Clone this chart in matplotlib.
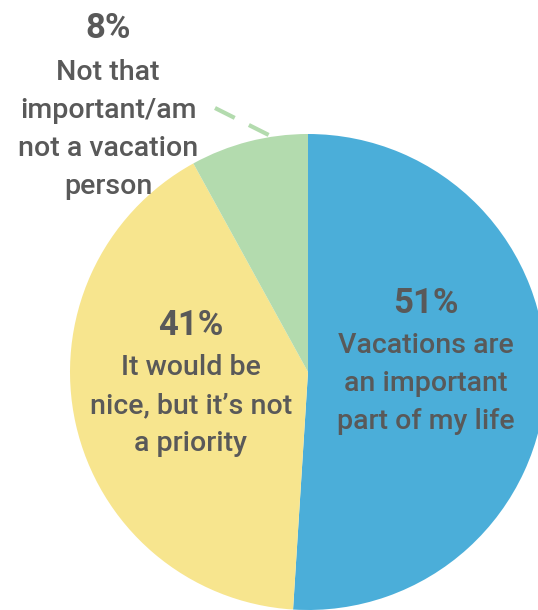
import numpy as np
import matplotlib.pyplot as plt

# Survey shares, clockwise from 12 o'clock
labels = [["Vacations are", "an important", "part of my life"],
          ["It would be", "nice, but it\u2019s not", "a priority"],
          ["Not that", "important/am", "not a vacation", "person"]]
shares = [51, 41, 8]
colors = ["#4BAED9", "#F7E58E", "#B3DBAE"]

W, H = 538, 610
fig = plt.figure(figsize=(W / 100, H / 100), dpi=100)
ax = fig.add_axes([0, 0, 1, 1])

cx, cy, r = 308, H - 372, 238
wedges, _ = ax.pie(shares, colors=colors, startangle=90, counterclock=False,
                   center=(cx, cy), radius=r, frame=True,
                   wedgeprops=dict(linewidth=0))
ax.set_xlim(0, W)
ax.set_ylim(0, H)
ax.set_aspect("equal")
ax.axis("off")

grey = "#595959"
font = dict(family=["Roboto", "DejaVu Sans"], color=grey, ha="center",
            va="baseline")

# (x centre, percent baseline, first text baseline), pixels from top
spots = [(426, 313, 353), (191, 335, 375), (108, 38, 80)]
step = 38
for (x, yp, yt), lines, s in zip(spots, labels, shares):
    ax.text(x, H - yp, f"{s}%", fontsize=25, fontweight="bold", **font)
    for i, line in enumerate(lines):
        ax.text(x, H - (yt + i * step), line, fontsize=20.5,
                fontweight="medium", **font)

# dashed leader from the small slice toward its label
w = wedges[2]
mid = np.deg2rad((w.theta1 + w.theta2) / 2 - 5)
ex, ey = cx + r * np.cos(mid), cy + r * np.sin(mid)
ax.plot([215, ex], [H - 108, ey + 2], color="#B3DBAE", lw=3,
        linestyle=(0, (5.3, 3.8)), solid_capstyle="butt", zorder=0)

fig.savefig("out.png", dpi=100)
